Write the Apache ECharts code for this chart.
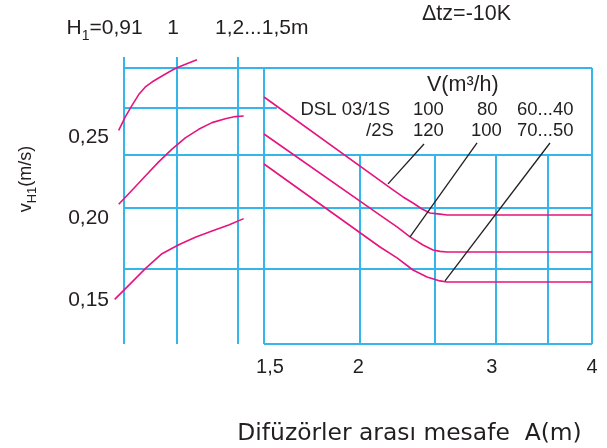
<!DOCTYPE html>
<html>
<head>
<meta charset="utf-8">
<script src="https://cdn.jsdelivr.net/npm/echarts@6/dist/echarts.min.js"></script>
<style>html,body{margin:0;padding:0;background:#fff;}#c{width:607px;height:448px;}</style>
</head>
<body>
<div id="c"></div>
<script>
// ---- shared vertical scale vH1 (m/s) ----
const yMin = 0.123, yMax = 0.2923;
const yTicks = [0.15, 0.20, 0.25];

// ---- left panel: H1 (m) ----
const hMin = 0.91, hMax = 1.1477;
const hGrid = [0.91, 1.0, 1.1036];
const hGridTop = 0.2991;
const leftHGrid = [0.2923, 0.2678, 0.2390, 0.2064, 0.1690];
const leftCurve1 = [[0.9010,0.2541],[0.9122,0.2623],[0.9236,0.2694],[0.9350,0.2760],[0.9462,0.2807],[0.9575,0.2837],[0.9745,0.2874],[0.9915,0.2909],[1.0029,0.2929],[1.0198,0.2954],[1.0339,0.2974]];
const leftCurve2 = [[0.9010,0.2087],[0.9236,0.2173],[0.9462,0.2261],[0.9689,0.2347],[0.9915,0.2425],[1.0141,0.2494],[1.0368,0.2547],[1.0594,0.2588],[1.0820,0.2612],[1.0990,0.2625],[1.1132,0.2629]];
const leftCurve3 = [[0.8942,0.1504],[0.9180,0.1590],[0.9462,0.1692],[0.9745,0.1784],[1.0029,0.1839],[1.0311,0.1885],[1.0594,0.1923],[1.0878,0.1960],[1.1132,0.1999]];

// ---- right panel: A (m), log scale ----
const aMin = 1.5, aMax = 4;
const aTicks = [1.5, 2, 3, 4];
const aFrame = [1.5, 4];
const aInner = [2, 2.5, 3, 3.5];
const innerTop = 0.2390;
const rightHGrid = [0.2923, 0.2390, 0.2064, 0.1690, 0.123];
const shortHGrid = [0.2678, 1.5, 1.559];
const curveA = [[1.5,0.2745],[2.2062,0.2175],[2.2731,0.2132],[2.3421,0.2095],[2.4060,0.2058],[2.4642,0.2034],[2.5239,0.2028],[2.5928,0.2021],[4,0.2021]];
const curveB = [[1.5,0.2518],[2.122,0.2021],[2.2328,0.1948],[2.3212,0.1887],[2.4132,0.1837],[2.4864,0.1807],[2.5391,0.1798],[2.5928,0.1794],[4,0.1794]];
const curveC = [[1.5,0.2334],[2.122,0.1825],[2.2328,0.1758],[2.3421,0.1684],[2.4423,0.1641],[2.5391,0.1617],[2.5928,0.1610],[4,0.1610]];
const leaders = [
  [[2.1735,0.2212],[2.4204,0.2457]],
  [[2.3212,0.1887],[2.8364,0.2463]],
  [[2.5773,0.1617],[3.5274,0.2463]]
];

const BLUE = '#34b6ea', MAG = '#e6147f', INK = '#231f20';
const FONT = 'Liberation Sans, Arial, sans-serif';

const leftSegs = [];
hGrid.forEach(h => leftSegs.push({coords: [[h, yMin], [h, hGridTop]]}));
leftHGrid.forEach(y => leftSegs.push({coords: [[hMin, y], [hMax, y]]}));

const rightSegs = [];
aFrame.forEach(a => rightSegs.push({coords: [[a, yMin], [a, yMax]]}));
aInner.forEach(a => rightSegs.push({coords: [[a, yMin], [a, innerTop]]}));
rightHGrid.forEach(y => rightSegs.push({coords: [[aMin, y], [aMax, y]]}));
rightSegs.push({coords: [[shortHGrid[1], shortHGrid[0]], [shortHGrid[2], shortHGrid[0]]]});

// small label nudges so the tick labels sit where the original prints them
const labelNudge = {'1,5': 'p', '2': 'q', '3': 'r', '4': 'n'};
const fmt = v => String(+(+v).toFixed(2)).replace('.', ',');

function curve(data, gi) {
  return {type: 'lines', coordinateSystem: 'cartesian2d', xAxisIndex: gi, yAxisIndex: gi,
    polyline: true, data: [{coords: data}], clip: false, z: 5, silent: true,
    lineStyle: {color: MAG, width: 1.6, opacity: 1, curveness: 0, join: 'round'}};
}
function txt(x, y, text, size, align, extra) {
  return Object.assign({type: 'text', x: x, y: y, silent: true,
    style: {text: text, fill: INK, font: size + 'px ' + FONT, align: align || 'left', verticalAlign: 'middle'}}, extra || {});
}
function rich(x, y, text, size, subSize, align) {
  return {type: 'text', x: x, y: y, silent: true,
    style: {text: text, fill: INK, align: align || 'left', verticalAlign: 'middle',
      rich: {
        n: {fontSize: size, fontFamily: FONT, lineHeight: size * 1.45, verticalAlign: 'middle', fill: INK},
        s: {fontSize: subSize, fontFamily: FONT, lineHeight: subSize * 1.3, verticalAlign: 'bottom', fill: INK}
      }}};
}
const xl = {fontSize: 20, fontFamily: FONT, color: INK};

const chart = echarts.init(document.getElementById('c'), null, {renderer: 'canvas'});
chart.setOption({
  animation: false,
  backgroundColor: '#ffffff',
  grid: [
    {left: 124, top: 68, width: 140, height: 276, containLabel: false, outerBoundsMode: 'none'},
    {left: 264, top: 68, width: 328, height: 276, containLabel: false, outerBoundsMode: 'none'}
  ],
  xAxis: [
    {type: 'value', gridIndex: 0, min: hMin, max: hMax, show: false},
    {type: 'log', gridIndex: 1, min: aMin, max: aMax, logBase: 10,
      axisLine: {show: false}, axisTick: {show: false}, splitLine: {show: false}, minorSplitLine: {show: false},
      axisLabel: {customValues: aTicks, margin: 13, color: INK, fontSize: 20, fontFamily: FONT,
        formatter: v => { const s = fmt(v); return '{' + (labelNudge[s] || 'n') + '|' + s + '}'; },
        rich: {
          n: xl,
          p: Object.assign({padding: [0, 0, 0, 12]}, xl),
          q: Object.assign({padding: [0, 4, 0, 0]}, xl),
          r: Object.assign({padding: [0, 8, 0, 0]}, xl)
        }}}
  ],
  yAxis: [
    {type: 'value', gridIndex: 0, min: yMin, max: yMax,
      axisLine: {show: false}, axisTick: {show: false}, splitLine: {show: false},
      axisLabel: {customValues: yTicks, formatter: v => (+v).toFixed(2).replace('.', ','), margin: 15, color: INK, fontSize: 21, fontFamily: FONT}},
    {type: 'value', gridIndex: 1, min: yMin, max: yMax, show: false, splitLine: {show: false}}
  ],
  series: [
    {type: 'lines', coordinateSystem: 'cartesian2d', xAxisIndex: 0, yAxisIndex: 0, data: leftSegs,
      clip: false, silent: true, z: 1, lineStyle: {color: BLUE, width: 2, opacity: 1}},
    {type: 'lines', coordinateSystem: 'cartesian2d', xAxisIndex: 1, yAxisIndex: 1, data: rightSegs,
      clip: false, silent: true, z: 1, lineStyle: {color: BLUE, width: 2, opacity: 1}},
    curve(leftCurve1, 0), curve(leftCurve2, 0), curve(leftCurve3, 0),
    curve(curveA, 1), curve(curveB, 1), curve(curveC, 1),
    {type: 'lines', coordinateSystem: 'cartesian2d', xAxisIndex: 1, yAxisIndex: 1,
      data: leaders.map(c => ({coords: c})), clip: false, silent: true, z: 6,
      lineStyle: {color: INK, width: 1.3, opacity: 1}}
  ],
  graphic: [
    rich(66.5, 28, '{n|H}{s|1}{n|=0,91}', 21, 14),
    txt(173, 28, '1', 21, 'center'),
    txt(215, 28, '1,2...1,5m', 21, 'left'),
    txt(422, 14, 'Δtz=-10K', 21.5, 'left'),
    txt(427, 85, 'V(m³/h)', 21.5, 'left'),
    txt(300.5, 109.5, 'DSL 03/1S', 18.5, 'left'),
    txt(413, 109.5, '100', 18.5, 'left'),
    txt(477, 109.5, '80', 18.5, 'left'),
    txt(517, 109.5, '60...40', 18.5, 'left'),
    txt(366, 130.5, '/2S', 18.5, 'left'),
    txt(413, 130.5, '120', 18.5, 'left'),
    txt(471, 130.5, '100', 18.5, 'left'),
    txt(517, 130.5, '70...50', 18.5, 'left'),
    Object.assign(rich(0, 0, '{n|v}{s|H1}{n|(m/s)}', 18, 13, 'center'), {x: 26, y: 179, rotation: Math.PI / 2}),
    {type: 'text', x: 409.5, y: 433.5, silent: true,
      style: {text: 'Difüzörler arası mesafe  A(m)', fill: INK, font: '23.4px DejaVu Sans, sans-serif', align: 'center', verticalAlign: 'middle'}}
  ]
});
</script>
</body>
</html>
